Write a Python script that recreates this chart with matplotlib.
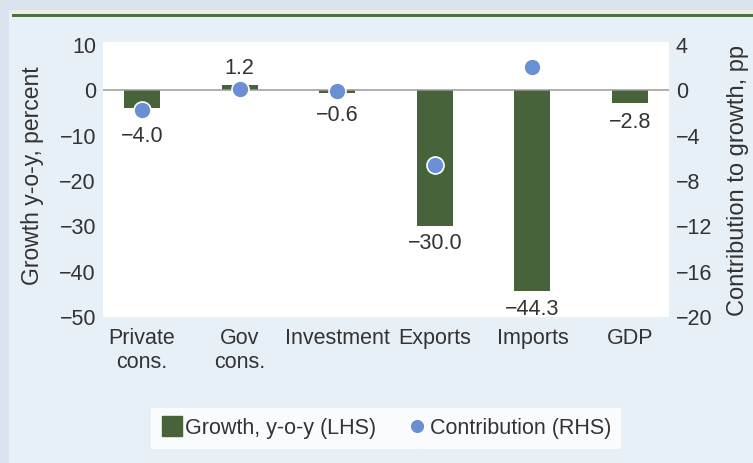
import matplotlib
matplotlib.use("Agg")
import matplotlib.pyplot as plt
from matplotlib.lines import Line2D
from matplotlib.patches import Rectangle
import numpy as np

categories = ["Private\ncons.", "Gov\ncons.", "Investment", "Exports", "Imports", "GDP"]
growth = [-4.0, 1.2, -0.6, -30.0, -44.3, -2.8]
contribution = [-1.7, 0.1, -0.1, -6.6, 2.1, np.nan]
growth_labels = ["−4.0", "1.2", "−0.6", "−30.0", "−44.3", "−2.8"]
left_ticks = [10, 0, -10, -20, -30, -40, -50]
right_ticks = [4, 0, -4, -8, -12, -16, -20]

plt.rcParams["font.family"] = ["Liberation Sans", "DejaVu Sans"]

TXT = "#333333"
BAR = "#476339"
DOT = "#6a8fd3"
FS = 15.5

W, H = 753, 463
fig = plt.figure(figsize=(W / 100, H / 100), dpi=100)
fig.patch.set_facecolor("#dae4ef")
# panel background
fig.patches.append(Rectangle((9 / W, 0), 1, 1 - 10 / H, transform=fig.transFigure,
                             facecolor="#e7eff7", edgecolor="none", zorder=-10))
fig.patches.append(Rectangle((9 / W, 1 - 14 / H), 1, 4 / H, transform=fig.transFigure,
                             facecolor="#eeeee6", edgecolor="none", zorder=-9))
fig.patches.append(Rectangle((12 / W, 1 - 17 / H), 1, 3 / H, transform=fig.transFigure,
                             facecolor="#4c7142", edgecolor="none", zorder=-8))

ax = fig.add_axes([103 / W, 1 - 317 / H, 566 / W, 275 / H])
ax.set_facecolor("white")
x = np.arange(len(categories))
ax.bar(x, growth, width=0.37, color=BAR, zorder=2)
ax.axhline(0, color="#9a9a9a", lw=1.1, zorder=3)
ax.set_xlim(-0.4, 5.4)
top_l = 10 + 3 / 4.52
ax.set_ylim(-50, top_l)
ax.set_yticks(left_ticks)
ax.set_yticklabels([str(v).replace("-", "−") for v in left_ticks])
ax.set_xticks(x)
ax.set_xticklabels(categories, linespacing=1.2)
ax.tick_params(axis="both", length=0, labelsize=FS, labelcolor=TXT)
ax.tick_params(axis="y", pad=5)
ax.tick_params(axis="x", pad=8)
for s in ax.spines.values():
    s.set_visible(False)

offsets = [12.5, 4, 8.5, 5, 6, 6.5]
for xi, v, lab, off in zip(x, growth, growth_labels, offsets):
    if v >= 0:
        ax.annotate(lab, (xi, v), xytext=(0, off), textcoords="offset points",
                    ha="center", va="bottom", fontsize=FS, color=TXT, zorder=5)
    else:
        ax.annotate(lab, (xi, v), xytext=(0, -off), textcoords="offset points",
                    ha="center", va="top", fontsize=FS, color=TXT, zorder=5)

ax2 = ax.twinx()
ax2.set_ylim(-20, 4 * top_l / 10)
ax2.set_yticks(right_ticks)
ax2.set_yticklabels([str(v).replace("-", "−") for v in right_ticks])
ax2.scatter(x, contribution, s=150, color=DOT, edgecolor="white", linewidth=1.2, zorder=6)
ax2.tick_params(axis="y", length=0, labelsize=FS, labelcolor=TXT, pad=5)
for s in ax2.spines.values():
    s.set_visible(False)

fig.text(33 / W, 1 - 176 / H, "Growth y-o-y, percent", rotation=90, ha="center",
         va="center", fontsize=16.5, color=TXT)
fig.text(738 / W, 1 - 181 / H, "Contribution to growth, pp", rotation=90, ha="center",
         va="center", fontsize=17, color=TXT)

handles = [
    Line2D([], [], marker="s", linestyle="none", markersize=15, markerfacecolor=BAR,
           markeredgecolor=BAR),
    Line2D([], [], marker="o", linestyle="none", markersize=10.5, markerfacecolor=DOT,
           markeredgecolor="white"),
]
leg = fig.legend(handles, ["Growth, y-o-y (LHS)", "Contribution (RHS)"],
                 loc="center", bbox_to_anchor=(386 / W, 1 - 428.5 / H), ncol=2,
                 frameon=True, fancybox=False, fontsize=FS, handletextpad=0.1,
                 columnspacing=1.4, handlelength=1.0, borderpad=0.45,
                 labelcolor=TXT)
leg.get_frame().set_facecolor("white")
leg.get_frame().set_edgecolor("white")
leg.get_frame().set_linewidth(0)

fig.savefig("out.png", dpi=100, facecolor=fig.get_facecolor())
